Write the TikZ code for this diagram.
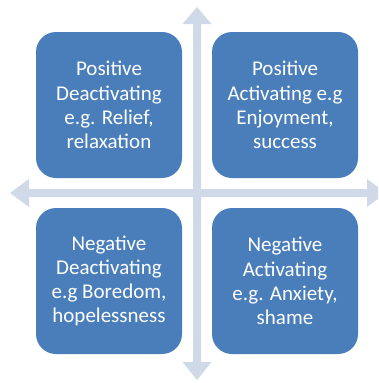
\documentclass[tikz,border=0pt]{standalone}
\usepackage{fontspec}
\setmainfont{Carlito}
\definecolor{boxblue}{HTML}{4A7EBB}
\definecolor{axisblue}{HTML}{D0D9E8}
\begin{document}
\begin{tikzpicture}[x=1pt,y=-1pt,
  quad/.style={fill=boxblue, draw=none, rounded corners=20pt,
    minimum width=146pt, minimum height=146pt, inner sep=0pt,
    text=white, align=center,
    font=\fontsize{21}{24.2}\selectfont},
  axis/.style={fill=axisblue, draw=none}]
\useasboundingbox (0,0) rectangle (378,383);
\begin{scope}
\clip (0,0) rectangle (378,383);
% horizontal axis with heads at both ends
\fill[axis] (10,193) -- (29,179) -- (29,189) -- (367,189) -- (367,179)
  -- (386,193) -- (367,207) -- (367,197) -- (29,197) -- (29,207) -- cycle;
% vertical axis with heads at both ends
\fill[axis] (197,7) -- (211.5,24) -- (201,24) -- (201,362) -- (211.5,362)
  -- (197,380) -- (182.5,362) -- (193,362) -- (193,24) -- (182.5,24) -- cycle;
\end{scope}
\node[quad] (pd) at (109,105) {Positive\\Deactivating\\e.g. Relief,\\relaxation};
\node[quad] (pa) at (285,105) {Positive\\Activating e.g\\Enjoyment,\\success};
\node[quad] (nd) at (109,281) {Negative\\Deactivating\\e.g Boredom,\\hopelessness};
\node[quad] (na) at (285,281) {Negative\\Activating\\e.g. Anxiety,\\shame};
\end{tikzpicture}
\end{document}
